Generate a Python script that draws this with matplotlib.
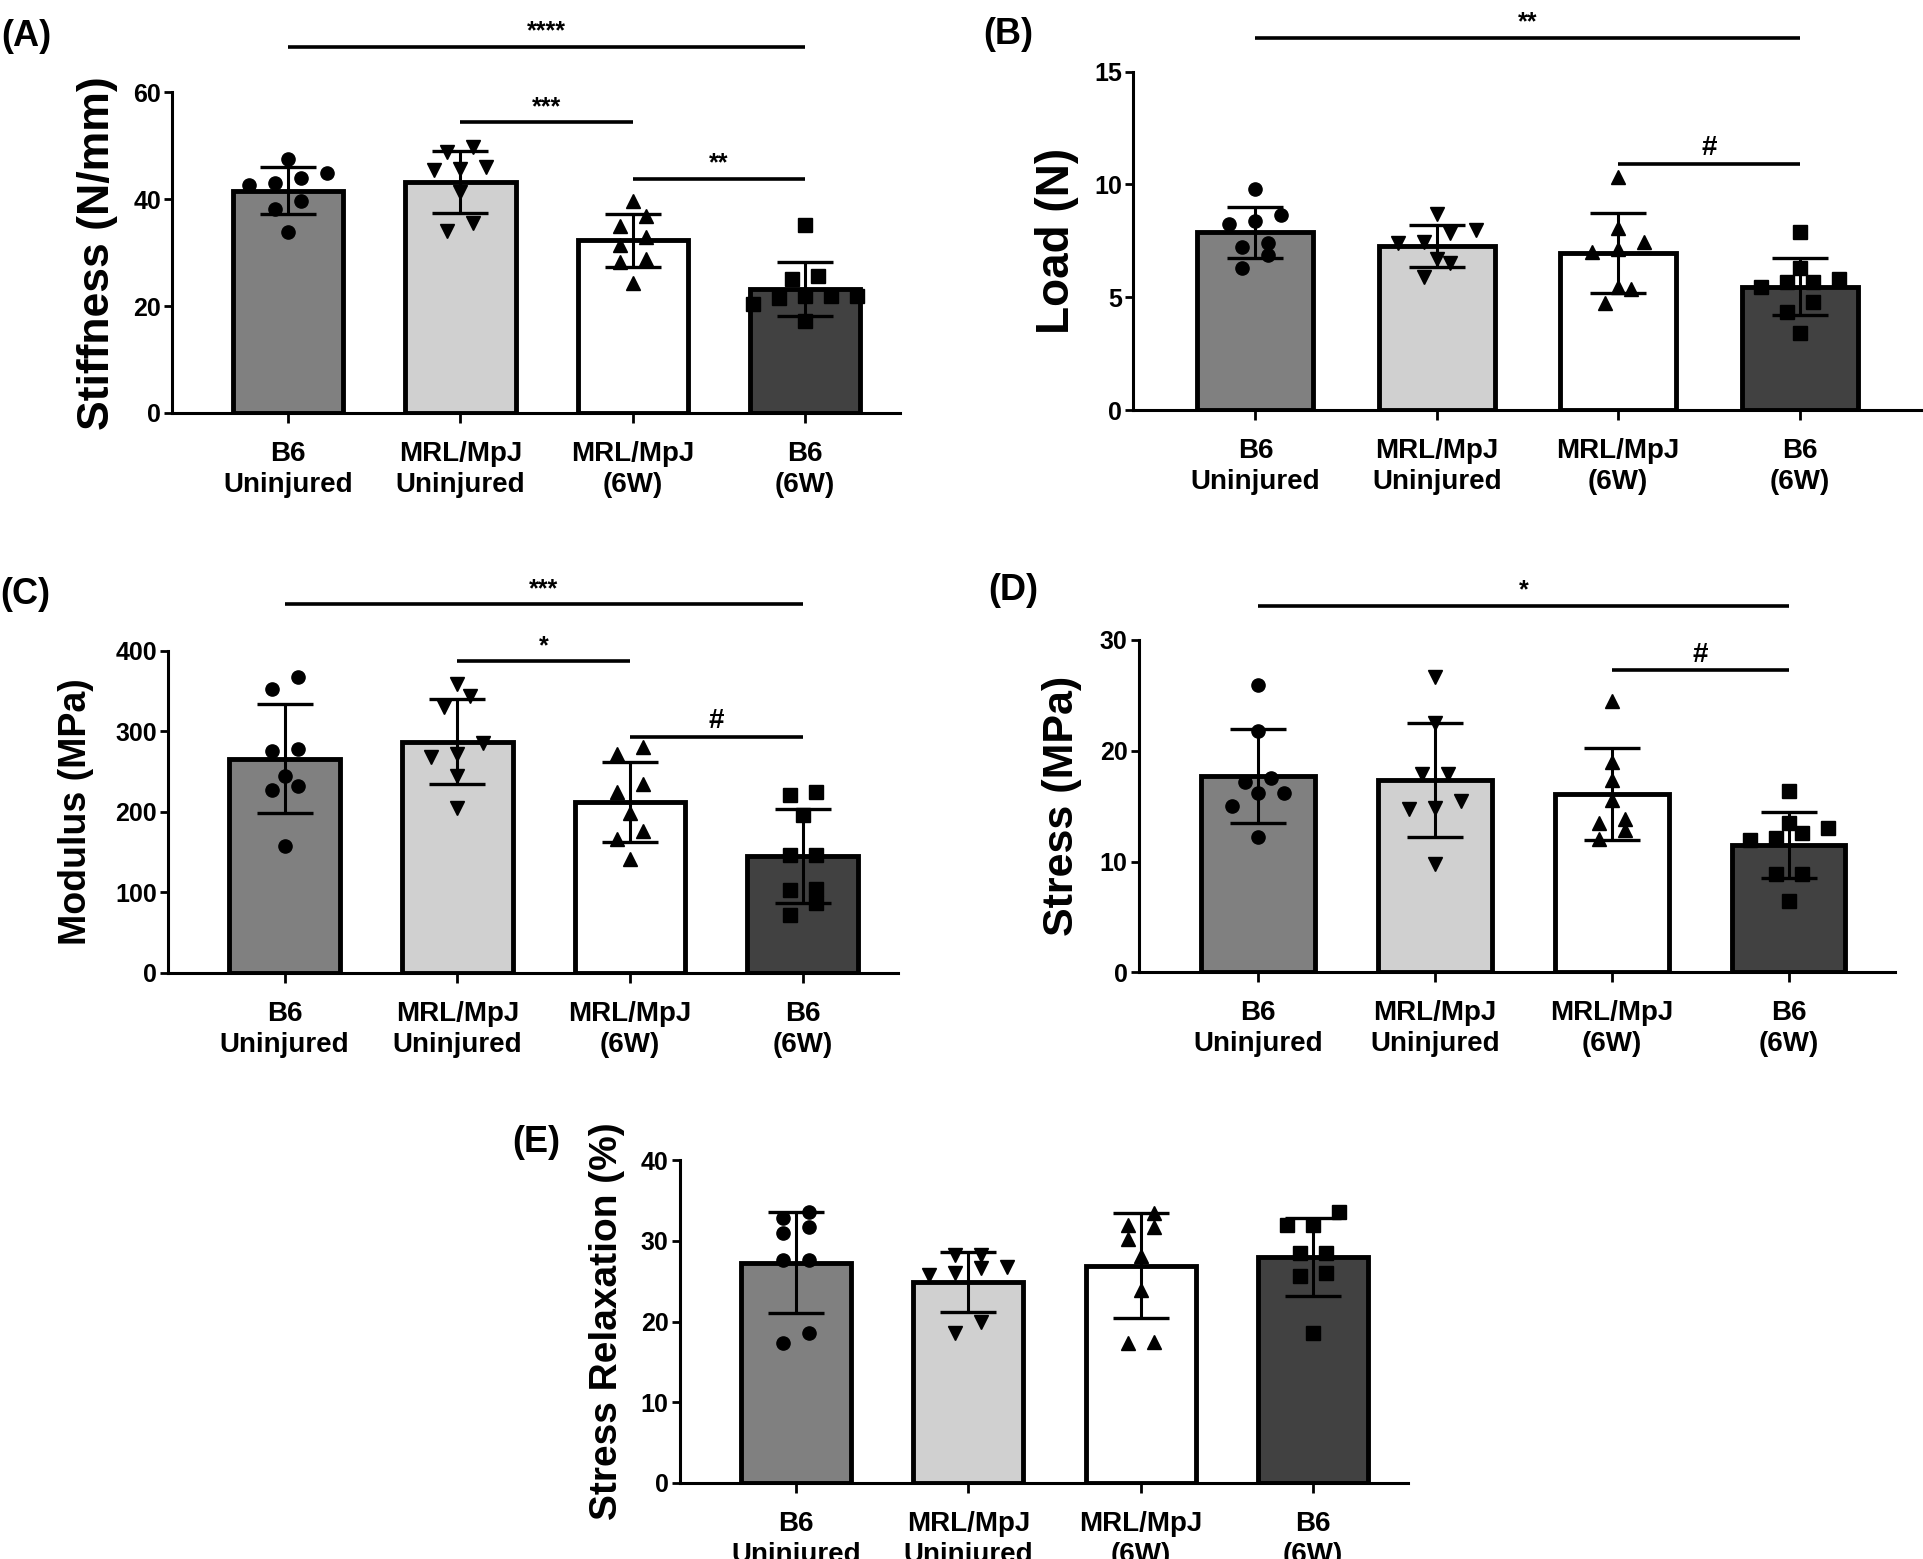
#!/usr/bin/env python3

"""Biomechanics of B6 vs MRL/MpJ tendons: five bar panels with individual points."""

import numpy as np
import matplotlib
matplotlib.use('Agg')
import matplotlib.pyplot as plt

plt.rcParams['font.family'] = ['Liberation Sans', 'DejaVu Sans']
plt.rcParams['font.weight'] = 'bold'

W, H = 1923, 1559

GROUPS = ['B6\nUninjured', 'MRL/MpJ\nUninjured', 'MRL/MpJ\n(6W)', 'B6\n(6W)']
BAR_COLORS = ['#808080', '#d0d0d0', '#ffffff', '#414141']
MARKERS = ['o', 'v', '^', 's']

# (A) stiffness, N/mm
stiffness_points = [
    [47.5, 43.9, 43.0, 44.9, 42.7, 39.6, 38.1, 33.8],
    [48.9, 49.8, 46.1, 45.6, 45.5, 41.4, 35.6, 34.0],
    [39.6, 36.9, 34.9, 33.0, 31.5, 28.8, 28.3, 24.3],
    [35.1, 25.0, 25.7, 21.9, 21.5, 21.8, 20.4, 21.9, 17.3],
]
stiffness_mean = [41.6, 43.2, 32.3, 23.2]
stiffness_sd = [4.4, 5.8, 5.0, 5.0]

# (B) load, N
load_points = [
    [9.80, 8.36, 8.65, 8.23, 7.24, 7.41, 6.87, 6.28],
    [8.69, 7.86, 7.98, 7.46, 7.39, 6.68, 6.53, 5.91],
    [10.31, 8.05, 7.46, 7.12, 6.99, 5.44, 5.35, 4.76],
    [7.90, 6.28, 5.83, 5.69, 5.69, 5.47, 4.77, 4.33, 3.43],
]
load_mean = [7.88, 7.27, 6.96, 5.47]
load_sd = [1.13, 0.92, 1.79, 1.26]

# (C) modulus, MPa
modulus_points = [
    [367, 352, 278, 275, 245, 232, 227, 157],
    [359, 344, 330, 285, 268, 272, 245, 205],
    [281, 272, 234, 225, 199, 176, 166, 142],
    [225, 221, 196, 146, 146, 104, 103, 87, 72],
]
modulus_mean = [266, 287, 212, 145]
modulus_sd = [68, 53, 50, 58]

# (D) stress, MPa
stress_points = [
    [25.9, 21.8, 17.5, 17.2, 16.2, 16.2, 15.0, 12.2],
    [26.7, 22.5, 17.9, 17.9, 15.5, 14.8, 14.7, 9.8],
    [24.5, 19.0, 17.4, 15.6, 13.8, 13.5, 12.85, 12.0],
    [16.4, 12.6, 13.5, 13.0, 12.1, 11.9, 8.9, 8.9, 6.4],
]
stress_mean = [17.75, 17.35, 16.1, 11.5]
stress_sd = [4.25, 5.15, 4.15, 3.0]

# (E) stress relaxation, %
relax_points = [
    [33.5, 32.8, 31.7, 30.9, 27.6, 27.6, 18.6, 17.3],
    [28.2, 28.2, 26.7, 26.6, 26.0, 25.8, 19.9, 18.6],
    [33.4, 32.0, 31.75, 30.2, 28.1, 23.9, 17.3, 17.5],
    [33.6, 32.0, 32.0, 28.5, 28.5, 26.0, 25.6, 18.6],
]
relax_mean = [27.3, 24.9, 26.9, 28.0]
relax_sd = [6.2, 3.7, 6.5, 4.8]

# significance brackets: (group i, group j, height, text)
stiffness_sig = [(0, 3, 68.5, '****'), (1, 2, 54.4, '***'), (2, 3, 43.8, '**')]
load_sig = [(0, 3, 16.5, '**'), (2, 3, 10.92, '#')]
modulus_sig = [(0, 3, 457.6, '***'), (1, 2, 386.8, '*'), (2, 3, 293.3, '#')]
stress_sig = [(0, 3, 33.1, '*'), (2, 3, 27.3, '#')]


fig = plt.figure(figsize=(W / 100, H / 100), dpi=100)


def px_rect(left, top, right, bottom):
    return [left / W, 1 - bottom / H, (right - left) / W, (bottom - top) / H]


def swarm_offsets(ax, values, step_px=26.0, row_px=14.0):
    """Spread points that sit at about the same height into a centred row."""
    vals = np.asarray(values, float)
    pts = ax.transData.transform(np.column_stack([np.zeros_like(vals), vals]))
    ypx = pts[:, 1]
    px_per_x = ax.transData.transform([(1, 0)])[0, 0] - ax.transData.transform([(0, 0)])[0, 0]
    rows = []
    for k in np.argsort(ypx):
        if rows and ypx[k] - ypx[rows[-1][0]] < row_px:
            rows[-1].append(k)
        else:
            rows.append([k])
    offsets = np.zeros_like(vals)
    for row in rows:
        n = len(row)
        for pos, k in enumerate(row):
            offsets[k] = (pos - (n - 1) / 2) * step_px / px_per_x
    return offsets


def draw_panel(rect, xmax, yticks, means, sds, points, sig, ylabel, label_fs, label_x,
               letter, letter_xy):
    ax = fig.add_axes(px_rect(*rect))
    ax.set_xlim(-0.675, xmax)
    ax.set_ylim(0, yticks[-1])
    xs = np.arange(len(GROUPS))

    ax.bar(xs, means, 0.64, color=BAR_COLORS, edgecolor='black', linewidth=3.5, zorder=2)
    ax.errorbar(xs, means, yerr=sds, fmt='none', ecolor='black', elinewidth=2.2,
                capsize=20, capthick=2.4, zorder=3)
    for i, vals in enumerate(points):
        off = swarm_offsets(ax, vals)
        ax.plot(i + off, vals, MARKERS[i], color='black', ms=9.5, zorder=4, clip_on=False)

    for i, j, y, txt in sig:
        ax.plot([i, j], [y, y], color='black', lw=2.6, clip_on=False, solid_capstyle='butt')
        ax.annotate(txt, xy=((i + j) / 2, y), xytext=(0, 6), textcoords='offset points',
                    ha='center', va='baseline', fontsize=20 if txt == '#' else 18,
                    fontweight='bold', annotation_clip=False)

    for side in ('top', 'right'):
        ax.spines[side].set_visible(False)
    for side in ('left', 'bottom'):
        ax.spines[side].set_linewidth(2.2)
    ax.set_yticks(yticks)
    ax.set_xticks(xs, GROUPS)
    ax.tick_params(axis='x', length=7, width=2, pad=13, labelsize=20)
    ax.tick_params(axis='y', length=6, width=2, pad=2, labelsize=18)
    for lab in ax.get_xticklabels():
        lab.set_linespacing(1.25)

    cy = (rect[1] + rect[3]) / 2
    fig.text(label_x / W, 1 - cy / H, ylabel, rotation=90, ha='center', va='center',
             fontsize=label_fs, fontweight='bold')
    fig.text(letter_xy[0] / W, 1 - letter_xy[1] / H, letter, ha='center', va='center',
             fontsize=26, fontweight='bold')
    return ax


draw_panel((172, 92.3, 899.5, 413), 3.55, [0, 20, 40, 60],
           stiffness_mean, stiffness_sd, stiffness_points, stiffness_sig,
           'Stiffness (N/mm)', 32, 98, '(A)', (26, 36))
draw_panel((1133, 71.7, 1923, 410), 3.68, [0, 5, 10, 15],
           load_mean, load_sd, load_points, load_sig,
           'Load (N)', 33, 1057, '(B)', (1008, 34))
draw_panel((168, 650.7, 897.7, 973), 3.55, [0, 100, 200, 300, 400],
           modulus_mean, modulus_sd, modulus_points, modulus_sig,
           'Modulus (MPa)', 27, 76, '(C)', (25, 594))
draw_panel((1138.6, 640, 1895, 972.3), 3.6, [0, 10, 20, 30],
           stress_mean, stress_sd, stress_points, stress_sig,
           'Stress (MPa)', 31, 1062, '(D)', (1013, 591))
draw_panel((679.5, 1160, 1408, 1483), 3.55, [0, 10, 20, 30, 40],
           relax_mean, relax_sd, relax_points, [],
           'Stress Relaxation (%)', 28, 607, '(E)', (536, 1142))

fig.savefig('out.png', dpi=100)
